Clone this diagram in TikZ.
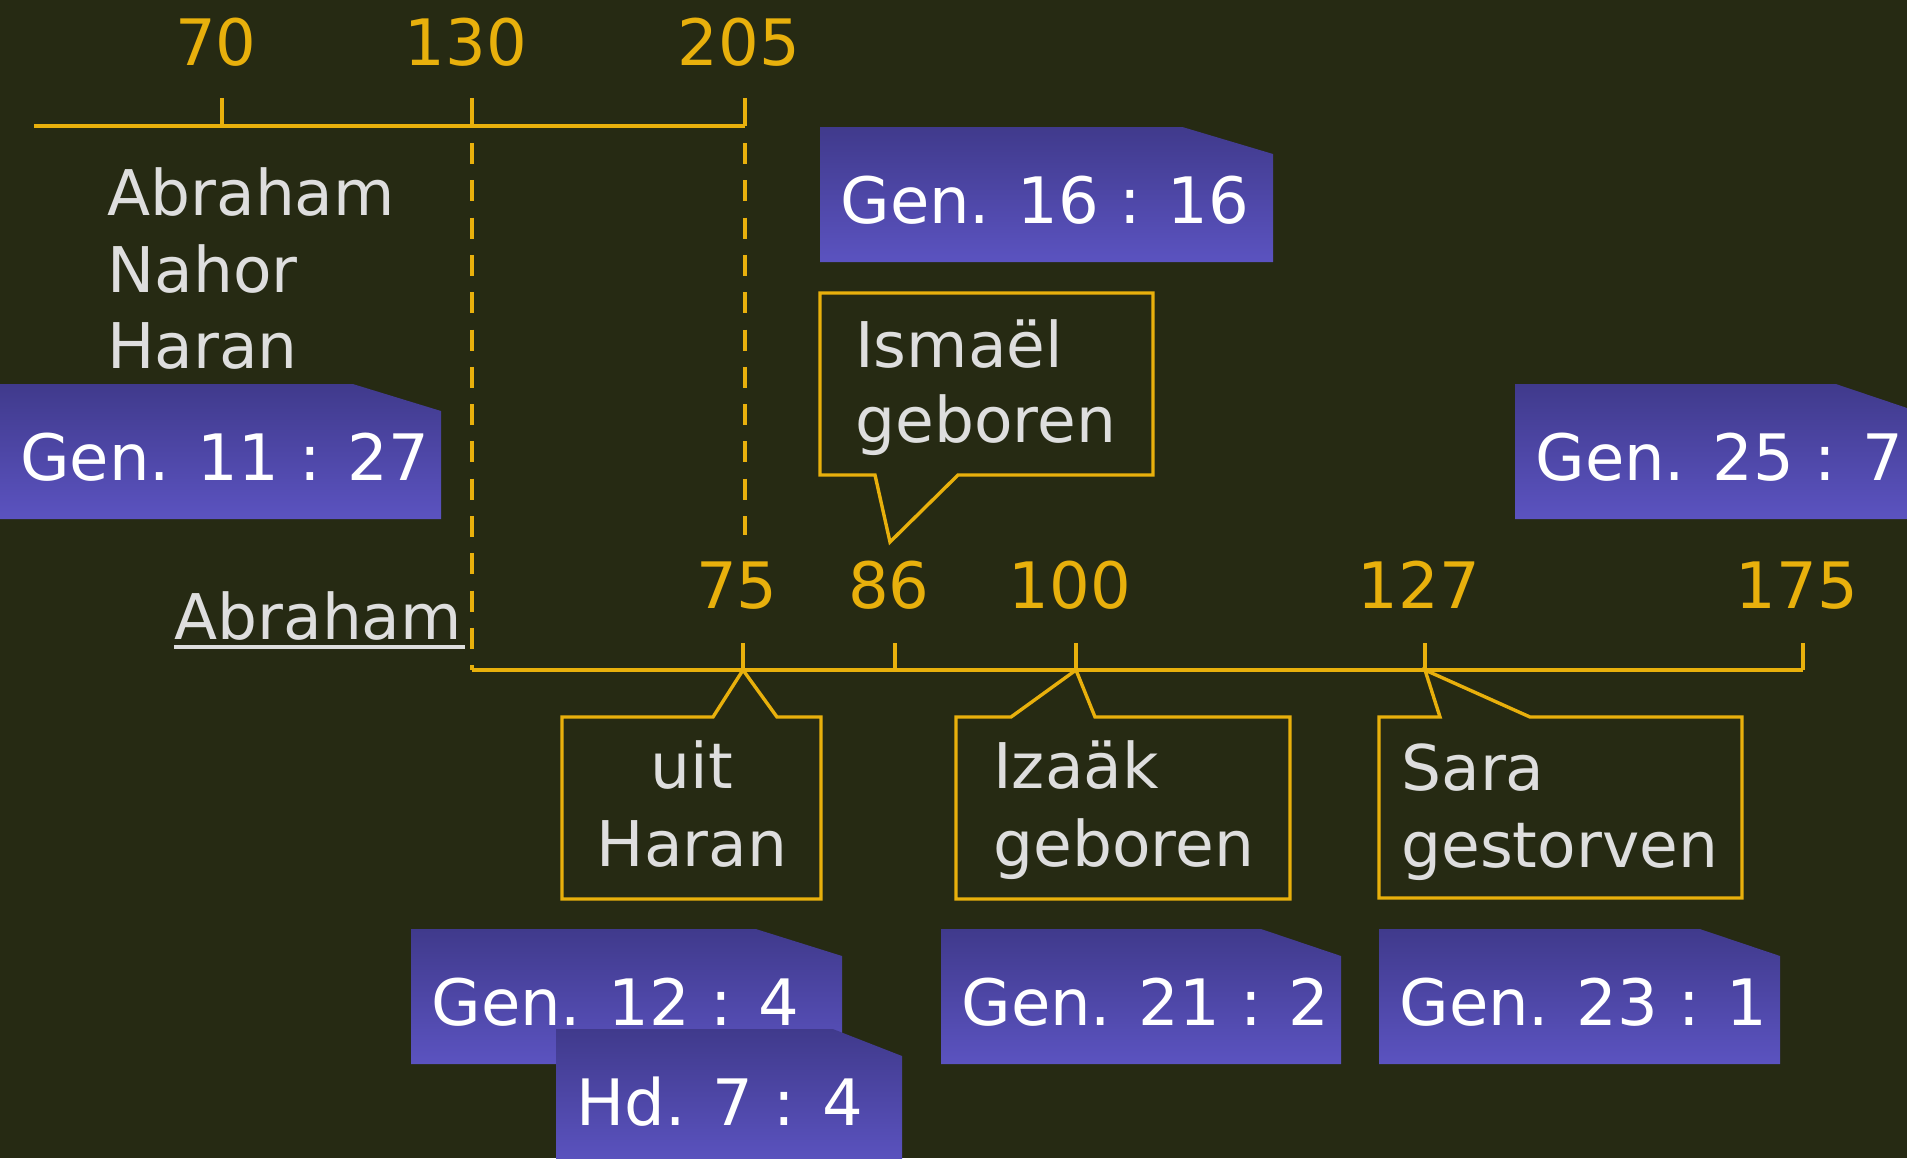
\documentclass[tikz,border=0pt]{standalone}
\usepackage{fontspec}
\setmainfont{DejaVu Sans}
\definecolor{bg}{RGB}{38,42,19}
\definecolor{gold}{RGB}{232,176,12}
\definecolor{lite}{RGB}{222,222,222}
\definecolor{tagtop}{RGB}{64,58,140}
\definecolor{tagbot}{RGB}{91,83,192}
\newcommand\reftag[5]{%
  \path[tagshape] (#2,#3) -- ++(0.8*#4,0) -- ++(0.2*#4,27) -- (#2+#4,#3+135) -- (#2,#3+135) -- cycle;
  \node[tagtxt] (#1) at (#2+20,#3+96) {#5};
}
\begin{document}
\begin{tikzpicture}[x=0.5pt,y=-0.5pt,
  txt/.style={font=\fontsize{31.5}{38}\selectfont, inner sep=0, anchor=base west, text=lite},
  num/.style={font=\fontsize{32}{38}\selectfont, inner sep=0, anchor=base, text=gold},
  tagtxt/.style={font=\fontsize{32}{40}\selectfont, inner sep=0, anchor=base west, text=white},
  axis/.style={draw=gold, line width=2pt},
  vdash/.style={draw=gold, line width=1.7pt, dash pattern=on 10.5pt off 8.15pt},
  callout/.style={draw=gold, line width=1.7pt, fill=bg, line join=miter},
  tagshape/.style={top color=tagtop, bottom color=tagbot}]
\fill[bg] (0,0) rectangle (1907,1158);
\useasboundingbox (0,0) rectangle (1907,1158);

% top timeline
\coordinate (tl) at (34,126);
\coordinate (tr) at (745,126);
\coordinate (t70) at (222,126);
\coordinate (t130) at (472,126);
\coordinate (t205) at (745,126);
\draw[axis] (tl) -- (tr);
\foreach \c in {t70,t130,t205} \draw[axis] (\c) -- ++(0,-28);
\node[num] (n70) at (216,65) {70};
\node[num] (n130) at (466,65) {130};
\node[num] (n205) at (739,65) {205};

% bottom timeline
\coordinate (bl) at (472,670);
\coordinate (br) at (1803,670);
\coordinate (b75) at (743,670);
\coordinate (b86) at (895,670);
\coordinate (b100) at (1076,670);
\coordinate (b127) at (1425,670);
\coordinate (b175) at (1803,670);
\draw[axis] (bl) -- (br);
\foreach \c in {b75,b86,b100,b127,b175} \draw[axis] (\c) -- ++(0,-27);
\node[num] (n75) at (737,608) {75};
\node[num] (n86) at (889,608) {86};
\node[num] (n100) at (1070,608) {100};
\node[num] (n127) at (1419,608) {127};
\node[num] (n175) at (1797,608) {175};

% dashed guides
\coordinate (d130) at (472,143);
\coordinate (d205) at (745,143);
\coordinate (d205e) at (745,535);
\draw[vdash] (d130) -- (bl);
\draw[vdash] (d205) -- (d205e);

% names
\node[txt] (abr1) at (107,215) {Abraham};
\node[txt] (nahor) at (107,292) {Nahor};
\node[txt] (haran) at (107,368) {Haran};
\node[txt] (abr2) at (174,639) {Abraham};
\draw[lite, line width=1.6pt] (abr2.base west) ++(0,8) -- ++(291,0);

% tags
\reftag{g1127}{0}{384}{441}{Gen. 11 : 27}
\reftag{g1616}{820}{127}{453}{Gen. 16 : 16}
\reftag{g257}{1515}{384}{401}{Gen. 25 : 7}
\reftag{g124}{411}{929}{431}{Gen. 12 : 4}
\reftag{hd74}{556}{1029}{346}{Hd. 7 : 4}
\reftag{g212}{941}{929}{400}{Gen. 21 : 2}
\reftag{g231}{1379}{929}{401}{Gen. 23 : 1}

% callouts
\coordinate (ismtip) at (890,542);
\draw[callout] (820,293) -- (1153,293) -- (1153,475) -- (958,475) -- (ismtip) -- (875,475) -- (820,475) -- cycle;
\node[txt] (ism1) at (855,367) {Ismaël};
\node[txt] (ism2) at (855,442) {geboren};

\draw[callout] (562,717) -- (713,717) -- (b75) -- (777,717) -- (821,717) -- (821,899) -- (562,899) -- cycle;
\node[txt, anchor=base] (uit1) at (692,788) {uit};
\node[txt, anchor=base] (uit2) at (692,866) {Haran};

\draw[callout] (956,717) -- (1011,717) -- (b100) -- (1095,717) -- (1290,717) -- (1290,899) -- (956,899) -- cycle;
\node[txt] (iz1) at (993,788) {Izaäk};
\node[txt] (iz2) at (993,866) {geboren};

\draw[callout] (1379,717) -- (1440,717) -- (b127) -- (1530,717) -- (1742,717) -- (1742,898) -- (1379,898) -- cycle;
\node[txt] (sa1) at (1401,790) {Sara};
\node[txt] (sa2) at (1401,867) {gestorven};
\end{tikzpicture}
\end{document}
